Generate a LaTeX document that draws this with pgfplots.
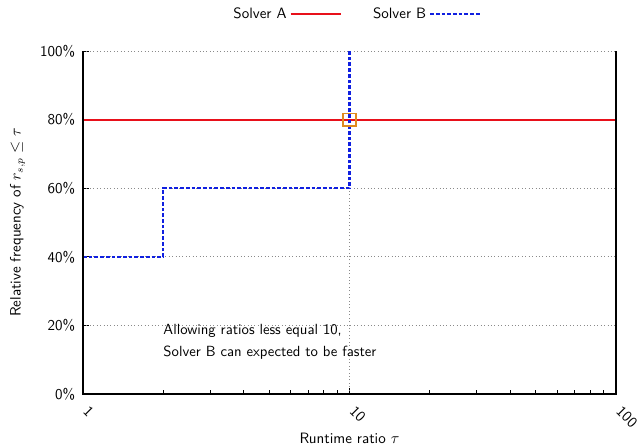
\documentclass[border=0pt]{standalone}
\usepackage{pgfplots}
\pgfplotsset{compat=1.18}
\renewcommand{\familydefault}{\sfdefault}
\definecolor{solvera}{HTML}{E8101A}
\definecolor{solverb}{HTML}{1020E0}
\definecolor{hitcol}{HTML}{E08A1E}
\definecolor{gridgray}{HTML}{8A8A8A}
\tikzset{gnugrid/.style={gridgray, line width=0.6pt, dash pattern=on 0.6pt off 1.8pt}}

\begin{document}
\begin{tikzpicture}
\path[use as bounding box] (-58.1pt,-37.8pt) rectangle (389.9pt,275.8pt);
\begin{axis}[
  scale only axis,
  width=373.1pt, height=240.1pt,
  xmode=log,
  xmin=1, xmax=100,
  ymin=0, ymax=1,
  xtick={1,10,100},
  xticklabels={1,10,100},
  ytick={0,0.2,0.4,0.6,0.8,1},
  yticklabels={0\%,20\%,40\%,60\%,80\%,100\%},
  tick pos=left,
  tick align=inside,
  major tick length=4pt,
  minor tick length=2.5pt,
  tick style={black, line width=0.5pt},
  every tick label/.append style={font=\fontsize{10.5}{12}\selectfont},
  xticklabel style={inner sep=1pt, xshift=1.2pt, yshift=-9.8pt, rotate=-45, anchor=west},
  yticklabel style={xshift=-2pt},
  axis line style={draw=none},
  xlabel={Runtime ratio $\tau$},
  ylabel={Relative frequency of $r_{s,p} \leq \tau$},
  every axis x label/.style={at={(axis description cs:0.5,-0.128)}, anchor=center, font=\fontsize{10.5}{12}\selectfont},
  every axis y label/.style={at={(axis description cs:-0.123,0.5)}, rotate=90, anchor=center, font=\fontsize{10.5}{12}\selectfont},
  legend plot pos=right,
  legend columns=2,
  legend style={at={(axis description cs:0.512,1.108)}, anchor=center, draw=none, fill=none,
    font=\fontsize{10.5}{12}\selectfont,
    /tikz/every even column/.append style={column sep=20pt}},
  legend image code/.code={\draw[#1] (0pt,0pt) -- (35pt,0pt);},
  clip=false,
]
% grid first, so the curves lie on it (80% and the top of x=10 are covered by data)
\draw[gnugrid] (axis cs:1,0.2) -- (axis cs:100,0.2);
\draw[gnugrid] (axis cs:1,0.4) -- (axis cs:100,0.4);
\draw[gnugrid] (axis cs:1,0.6) -- (axis cs:100,0.6);
\draw[gnugrid] (axis cs:1,1) -- (axis cs:100,1);
\draw[gnugrid] (axis cs:10,0) -- (axis cs:10,0.6);

\addplot[color=solvera, solid, line width=1.5pt, mark=none] coordinates {(1,0.8) (100,0.8)};
\addlegendentry{Solver A}
\addplot[color=solverb, line width=1.5pt, mark=none, dash pattern=on 2.6pt off 1.4pt] coordinates {
  (1,0.4) (2,0.4) (2,0.6) (10,0.6) (10,1.0)};
\addlegendentry{Solver B}
\addplot[only marks, mark=square, mark size=4.3pt, color=hitcol,
  mark options={draw=hitcol, fill=none, line width=1.2pt, solid}, forget plot]
  coordinates {(10,0.8)};

% border on three sides, gnuplot style
\draw[black, line width=0.8pt] (rel axis cs:0,1) -- (rel axis cs:0,0) -- (rel axis cs:1,0) -- (rel axis cs:1,1);

\node[anchor=north west, align=left, inner sep=0pt, font=\fontsize{10.3}{15.3}\selectfont]
  at (axis cs:2,0.205) {Allowing ratios less equal 10,\\Solver B can expected to be faster};
\end{axis}
\end{tikzpicture}
\end{document}
